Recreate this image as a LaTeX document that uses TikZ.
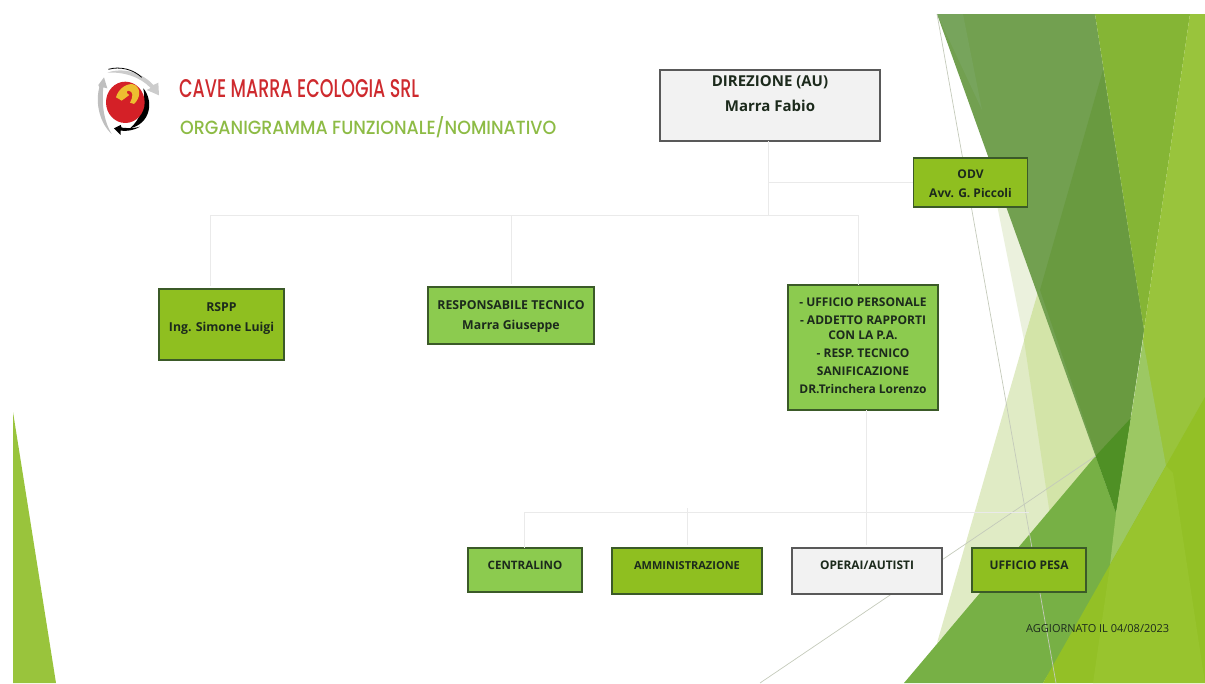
\documentclass[tikz,border=0pt]{standalone}
\usepackage{fontspec}
\usepackage{graphicx}
\setmainfont{Open Sans}
\newfontfamily\titlefont{Poppins Medium}
\definecolor{grA}{HTML}{72A050}
\definecolor{grAb}{HTML}{77A45C}
\definecolor{grAd}{HTML}{699A40}
\definecolor{grB}{HTML}{85B535}
\definecolor{grC}{HTML}{99C43C}
\definecolor{grD}{HTML}{77B045}
\definecolor{grE}{HTML}{93C026}
\definecolor{grEb}{HTML}{98C42E}
\definecolor{grF}{HTML}{E0EBC5}
\definecolor{grG}{HTML}{EBF1DD}
\definecolor{grH}{HTML}{D3E4A8}
\definecolor{grI}{HTML}{9CC863}
\definecolor{grK}{HTML}{4F9025}
\definecolor{olive}{HTML}{8FBF20}
\definecolor{leaf}{HTML}{8CCB4F}
\definecolor{pale}{HTML}{F2F2F2}
\definecolor{inkc}{HTML}{1C2A1C}
\definecolor{conn}{HTML}{EAEAEA}
\definecolor{hairc}{HTML}{C4CABB}
\definecolor{redc}{HTML}{CE2A2E}
\definecolor{logored}{HTML}{D42027}
\definecolor{logoyel}{HTML}{EDBE30}
\definecolor{greenc}{HTML}{8DBB45}
\definecolor{edgec}{HTML}{3B5A28}
\newcommand{\boxtext}[6]{\parbox[c][#2pt][t]{#1pt}{\centering\fontsize{#4}{#5}\selectfont\bfseries\color{inkc}\rule{0pt}{#3pt}#6\par}}
\tikzset{
  orgbox/.style={draw=#1,line width=1.1pt,inner sep=0pt,outer sep=0pt},
  oliveb/.style={orgbox=edgec,fill=olive},
  leafb/.style={orgbox=edgec,fill=leaf},
  paleb/.style={orgbox={black!65},fill=pale},
  link/.style={draw=conn,line width=1pt},
  linkgap/.style={link,shorten >=3pt},
  hairline/.style={draw=hairc,line width=.7pt},
  titletxt/.style={anchor=west,inner sep=0pt},
}
\begin{document}
\begin{tikzpicture}[x=1pt,y=-1pt]
\useasboundingbox (0,0) rectangle (1205,683);
% left wedge
\fill[grC] (13,412) -- (56,683) -- (13,683) -- cycle;
% pale translucent wedges
\fill[grF] (1040,285) -- (1100,300) -- (1100,470) -- (937,643) -- cycle;
\fill[grG] (990,170) -- (1040,200) -- (1040,285) -- (1024,340) -- cycle;
\fill[grH] (1040,285) -- (1100,300) -- (1100,470) -- (1050,515) -- (1024,340) -- cycle;
% upper dark triangles
\fill[grA] (937,14) -- (1095,14) -- (1144,330) -- (1116,513) -- cycle;
\fill[grAb] (937,14) -- (963,14) -- (982,110) -- cycle;
\fill[grAd] (1103,70) -- (1144,330) -- (1116,513) -- (1040,290) -- cycle;
\fill[grB] (1095,14) -- (1190,14) -- (1144,330) -- cycle;
\fill[grC] (1190,14) -- (1205,14) -- (1205,500) -- (1120,600) -- (1143,340) -- (1144,330) -- cycle;
% lower large shapes
\fill[grD] (904,683) -- (1095.6,456) -- (1116,513) -- (1120,560) -- (1043,683) -- cycle;
\fill[grK] (1095.6,456) -- (1131,418) -- (1116,513) -- cycle;
\fill[grI] (1143,340) -- (1166,466) -- (1110,565) -- (1116,513) -- cycle;
\fill[grE] (1043,683) -- (1205,397) -- (1205,683) -- cycle;
\fill[grEb] (1110,565) -- (1166,466) -- (1173,473) -- (1205,683) -- (1093,683) -- cycle;
% thin lines
\coordinate (hairA) at (937,14);
\coordinate (hairB) at (1056,683);
\coordinate (hairC) at (1095.6,456);
\coordinate (hairD) at (760,683);
\draw[hairline] (hairA) -- (hairB);
\draw[hairline] (hairC) -- (hairD);
% logo
\begin{scope}[shift={(90,60)},x=.3333pt,y=-.3333pt]
  \fill[black!25] (25,75) -- (42,52) -- (52,85) -- (40,82) .. controls (35,130) and (40,180) .. (65,222) .. controls (30,190) and (15,130) .. (28,82) -- cycle;
  \fill[black!20] (52,38) .. controls (100,20) and (160,40) .. (190,75) -- (205,68) -- (207,106) -- (170,90) -- (182,84) .. controls (150,50) and (100,35) .. (52,38) -- cycle;
  \draw[black,line width=.8pt] (55,28) .. controls (90,18) and (130,28) .. (155,52);
  \fill[black] (160,85) .. controls (190,120) and (185,190) .. (120,205) .. controls (150,180) and (170,130) .. (160,85) -- cycle;
  \fill[black] (150,200) .. controls (130,212) and (110,214) .. (92,212) -- (92,225) -- (72,205) -- (92,195) -- (95,203) .. controls (115,205) and (135,205) .. (150,200) -- cycle;
  \fill[logored] (106,127) ellipse [x radius=58,y radius=62];
  \fill[logoyel] (78,112) .. controls (85,85) and (115,65) .. (135,75) .. controls (155,88) and (150,115) .. (132,132) -- (120,128) .. controls (130,110) and (130,95) .. (117,92) .. controls (108,92) and (108,100) .. (118,105) -- (95,122) .. controls (90,118) and (84,116) .. (78,112) -- cycle;
\end{scope}
% titles
\node[titletxt,text=redc] (title) at (179,88.5) {\resizebox{240pt}{18pt}{\titlefont CAVE MARRA ECOLOGIA SRL}};
\node[titletxt,text=greenc] (subtitle) at (180,127) {\resizebox{376pt}{18pt}{\titlefont ORGANIGRAMMA FUNZIONALE/NOMINATIVO}};
% boxes
\node[paleb] (dir) at (770,105.5) {\boxtext{220}{71}{16.5}{15}{25}{DIREZIONE (AU)\\Marra Fabio}};
\node[oliveb] (odv) at (970.5,182.5) {\boxtext{114.5}{49}{20.5}{12}{19}{ODV\\Avv. G. Piccoli}};
\node[oliveb] (rspp) at (221.5,324.5) {\boxtext{125}{71}{22}{12.3}{20}{RSPP\\Ing. Simone Luigi}};
\node[leafb] (rt) at (511,315.5) {\boxtext{166}{57}{22}{12.3}{20}{RESPONSABILE TECNICO\\Marra Giuseppe}};
\node[leafb] (uff) at (863,347.5) {\boxtext{150}{125}{21.5}{12}{18}{- UFFICIO PERSONALE\\- ADDETTO RAPPORTI\\[-3.5pt]CON LA P.A.\\- RESP. TECNICO\\SANIFICAZIONE\\DR.Trinchera Lorenzo}};
\node[leafb] (cen) at (525,570) {\boxtext{114}{44}{21}{11.6}{18}{CENTRALINO}};
\node[oliveb] (amm) at (687,571) {\boxtext{150}{46}{21}{11}{18}{AMMINISTRAZIONE}};
\node[paleb] (ope) at (867,571) {\boxtext{150}{46}{21}{11.9}{18}{OPERAI/AUTISTI}};
\node[oliveb] (pes) at (1029,570) {\boxtext{114}{44}{21}{11.9}{18}{UFFICIO PESA}};
\node[inner sep=0pt,anchor=west,text=inkc] (upd) at (1026,629) {\fontsize{11}{12}\selectfont AGGIORNATO IL 04/08/2023};
% connectors
\coordinate (busTop) at (768,215);
\coordinate (busOdv) at (768,182);
\coordinate (dropR) at (210,215);
\coordinate (dropT) at (511,215);
\coordinate (dropU) at (858,215);
\draw[link] (busTop |- dir.south) -- (busTop);
\draw[link] (busOdv) -- (odv.west |- busOdv);
\draw[link] (dropR) -- (dropU);
\draw[linkgap] (dropR) -- (dropR |- rspp.north);
\draw[linkgap] (dropT) -- (dropT |- rt.north);
\draw[link] (dropU) -- (dropU |- uff.north);
\coordinate (busLow) at (866,512);
\coordinate (lowL) at (524,512);
\coordinate (lowA) at (687,508);
\coordinate (lowR) at (1029,512);
\draw[linkgap] (busLow |- uff.south) -- (busLow |- ope.north);
\draw[link] (lowL) -- (lowR);
\draw[link] (lowL) -- (lowL |- cen.north);
\draw[linkgap] (lowA) -- (lowA |- amm.north);
\end{tikzpicture}
\end{document}
